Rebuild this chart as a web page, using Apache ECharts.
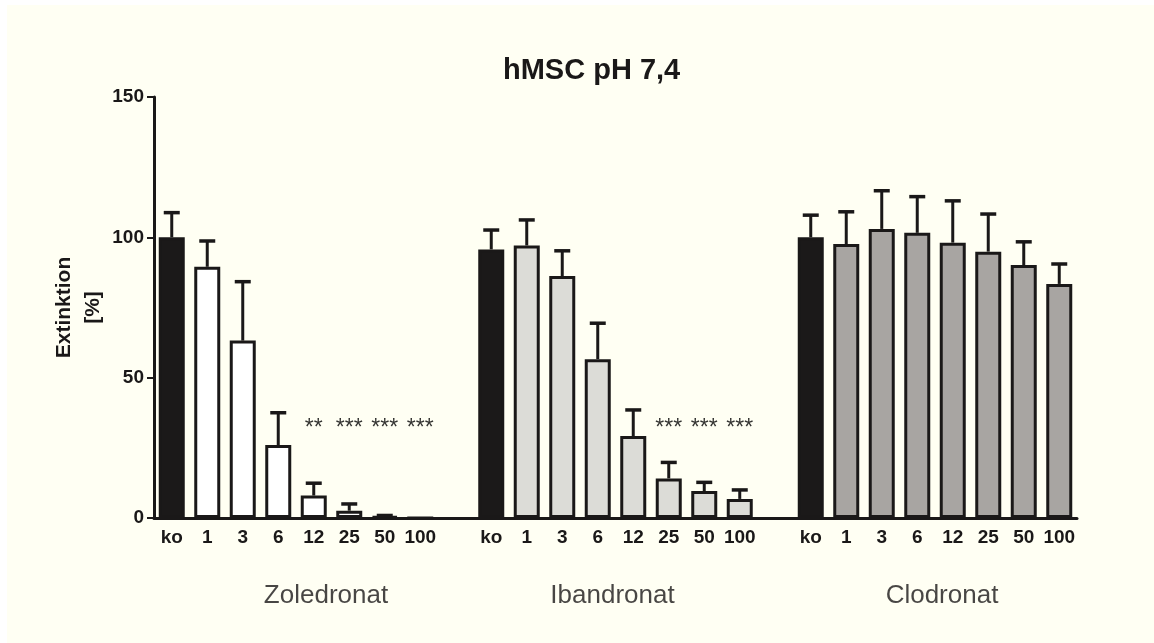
<!DOCTYPE html>
<html>
<head>
<meta charset="utf-8">
<script src="https://cdn.jsdelivr.net/npm/echarts@6/dist/echarts.min.js"></script>
<style>
    html, body { margin: 0; padding: 0; background: #ffffff; }
    #chart { position: absolute; left: 7px; top: 5px; width: 1147px; height: 638px; background: #fffff3; }
</style>
</head>
<body>
<div id="chart"></div>
<script>
// doses per group
const doses = ['ko', '1', '3', '6', '12', '25', '50', '100']
const groupNames = ['Zoledronat', 'Ibandronat', 'Clodronat']

// mean and upper end of error bar (mean + SD), Extinktion in %
const zoledronatMean = [100, 89.5, 63.2, 26, 8, 2.6, 0.5, 0]
const zoledronatUpper = [108.8, 98.7, 84.2, 37.5, 12.4, 5, 0.9, 0]
const ibandronatMean = [95.7, 97.1, 86.2, 56.6, 29.2, 14.1, 9.6, 6.8]
const ibandronatUpper = [102.6, 106.2, 95.2, 69.4, 38.5, 19.8, 12.7, 10]
const clodronatMean = [100, 97.6, 103, 101.6, 98.1, 94.9, 90.1, 83.4]
const clodronatUpper = [107.9, 109.1, 116.6, 114.5, 113, 108.3, 98.4, 90.5]

// significance marks
const zoledronatStars = ['', '', '', '', '**', '***', '***', '***']
const ibandronatStars = ['', '', '', '', '', '***', '***', '***']
const clodronatStars = ['', '', '', '', '', '', '', '']
const starLevel = 32

const yTicks = [0, 50, 100, 150]

// styling
const INK = '#1a1818'
const koColor = '#1b1919'
const groupFill = ['#ffffff', '#dcdcd7', '#a8a5a2']
const groupLabelNudge = [30, -3, 7]
const FONT = '"Liberation Sans", Arial, sans-serif'

const groups = [
    { mean: zoledronatMean, upper: zoledronatUpper, stars: zoledronatStars },
    { mean: ibandronatMean, upper: ibandronatUpper, stars: ibandronatStars },
    { mean: clodronatMean, upper: clodronatUpper, stars: clodronatStars }
]

let categories = []
let barData = []
let errData = []
let starData = []
groups.forEach((g, gi) => {
    if (gi > 0) {
        categories.push('')
        barData.push('-')
    }
    doses.forEach((d, di) => {
        const idx = categories.length
        categories.push(d)
        barData.push({
            value: g.mean[di],
            itemStyle: { color: di === 0 ? koColor : groupFill[gi] }
        })
        if (g.upper[di] > g.mean[di]) {
            errData.push([idx, g.mean[di], g.upper[di]])
        }
        if (g.stars[di]) {
            starData.push({ value: [idx, starLevel], mark: g.stars[di] })
        }
    })
})

const groupLabelData = groupNames.map((name, gi) => ({
    name: name,
    value: [gi * 9 + 4, 0],
    label: { offset: [groupLabelNudge[gi], 78] }
}))

const chart = echarts.init(document.getElementById('chart'))

const option = {
    animation: false,
    backgroundColor: '#fffff3',
    title: {
        text: 'hMSC pH 7,4',
        left: 491,
        top: 46,
        textStyle: { fontFamily: FONT, fontSize: 29, fontWeight: 'bold', color: INK }
    },
    grid: { left: 147, right: 77, top: 92, bottom: 125 },
    xAxis: [{
        type: 'category',
        data: categories,
        axisLine: { lineStyle: { color: INK, width: 3 } },
        axisTick: {
            alignWithLabel: true,
            length: 7,
            lineStyle: { color: INK, width: 2 },
            interval: (i, v) => v !== ''
        },
        axisLabel: {
            interval: 0,
            margin: 10,
            color: INK,
            fontFamily: FONT,
            fontSize: 19,
            fontWeight: 'bold'
        },
        splitLine: { show: false }
    }, {
        type: 'value',
        min: 0,
        max: categories.length,
        show: false
    }],
    yAxis: {
        type: 'value',
        min: yTicks[0],
        max: yTicks[yTicks.length - 1],
        interval: yTicks[1] - yTicks[0],
        name: 'Extinktion\n[%]',
        nameLocation: 'middle',
        nameRotate: 90,
        nameGap: 46,
        nameMoveOverlap: false,
        nameTextStyle: { fontFamily: FONT, fontSize: 21, fontWeight: 'bold', color: INK, lineHeight: 29 },
        axisLine: { show: true, lineStyle: { color: INK, width: 3 } },
        axisTick: { show: true, length: 7, lineStyle: { color: INK, width: 2 } },
        axisLabel: { margin: 10, color: INK, fontFamily: FONT, fontSize: 19, fontWeight: 'bold' },
        splitLine: { show: false }
    },
    series: [
        {
            type: 'bar',
            data: barData,
            barWidth: 26,
            itemStyle: { borderColor: INK, borderWidth: 3 },
            z: 2
        },
        {
            type: 'custom',
            data: errData,
            z: 3,
            renderItem: (params, api) => {
                const base = api.coord([api.value(0), api.value(1)])
                const top = api.coord([api.value(0), api.value(2)])
                const cap = 8
                return {
                    type: 'group',
                    children: [
                        {
                            type: 'line',
                            shape: { x1: base[0], y1: base[1], x2: top[0], y2: top[1] },
                            style: { stroke: INK, lineWidth: 3 }
                        },
                        {
                            type: 'line',
                            shape: { x1: top[0] - cap, y1: top[1], x2: top[0] + cap, y2: top[1] },
                            style: { stroke: INK, lineWidth: 3.5 }
                        }
                    ]
                }
            }
        },
        {
            type: 'scatter',
            data: starData,
            symbolSize: 0,
            label: {
                show: true,
                position: 'inside',
                formatter: p => p.data.mark,
                fontFamily: FONT,
                fontSize: 23,
                color: '#000000'
            }
        },
        {
            type: 'scatter',
            xAxisIndex: 1,
            data: groupLabelData,
            symbolSize: 0,
            clip: false,
            label: {
                show: true,
                position: 'inside',
                formatter: p => p.name,
                fontFamily: FONT,
                fontSize: 26,
                color: INK
            }
        }
    ]
}

chart.setOption(option)
</script>
</body>
</html>
